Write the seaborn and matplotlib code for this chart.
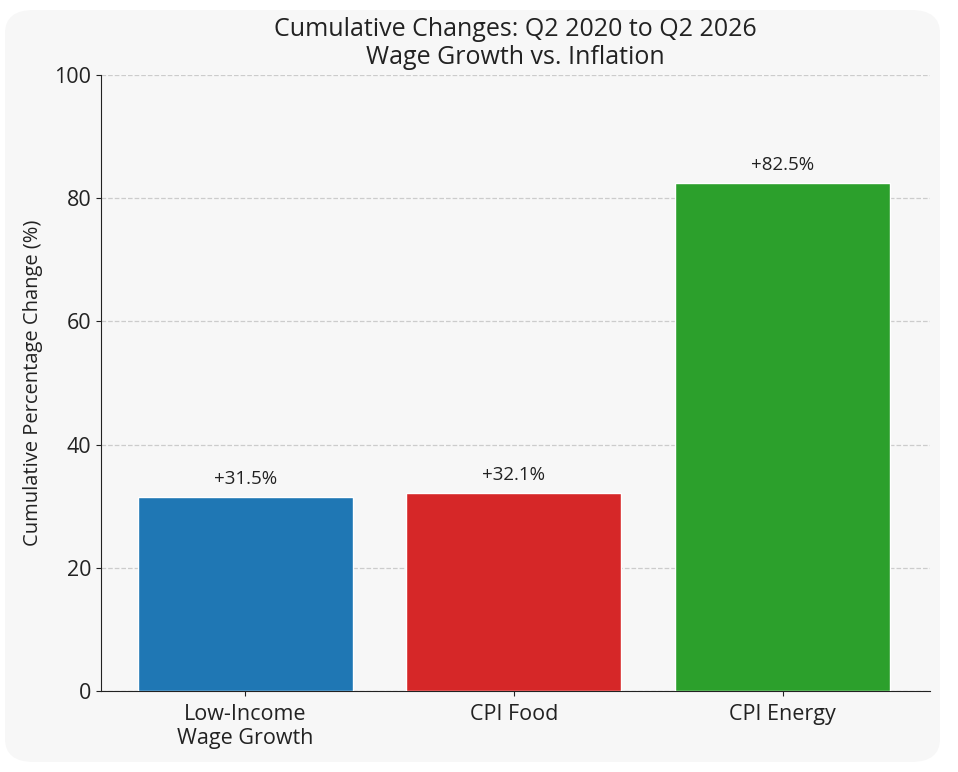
import matplotlib
matplotlib.use("Agg")
import matplotlib.pyplot as plt
import seaborn as sns
import pandas as pd
from matplotlib.patches import FancyBboxPatch

categories = ["Low-Income\nWage Growth", "CPI Food", "CPI Energy"]
values = [31.5, 32.1, 82.5]
colors = ["#1f77b4", "#d62728", "#2ca02c"]
yticks = [0, 20, 40, 60, 80, 100]

sns.set_style("ticks")
plt.rcParams['font.family'] = ['Open Sans', 'DejaVu Sans']

df = pd.DataFrame({"cat": categories, "val": values})

fig = plt.figure(figsize=(9.58, 7.72), dpi=100)
fig.patch.set_facecolor("white")
bg = "#f7f7f7"
panel = FancyBboxPatch((5/958, 10/772), 935/958, 752/772,
                       boxstyle="round,pad=0,rounding_size=0.03",
                       transform=fig.transFigure, facecolor=bg, edgecolor="none", zorder=-10)
fig.patches.append(panel)

ax = fig.add_axes([101/958, 1 - 691/772, (930-101)/958, (691-75)/772])
ax.set_facecolor(bg)
sns.barplot(data=df, x="cat", y="val", hue="cat", palette=colors, ax=ax,
            width=0.8, saturation=1, legend=False, zorder=3)

for i, v in enumerate(values):
    ax.text(i, v + 1.5, f"+{v}%", ha="center", va="bottom", fontsize=13.5, color="#222222")

ax.set_ylim(0, 100)
ax.set_xlim(-0.537, 2.549)
ax.set_yticks(yticks)
ax.tick_params(axis="both", labelsize=15.5, colors="#222222")
ax.tick_params(axis="x", pad=6)
ax.yaxis.grid(True, linestyle="--", color="#cccccc", linewidth=0.9, zorder=0)
ax.set_axisbelow(True)
sns.despine(ax=ax)
for s in ["left", "bottom"]:
    ax.spines[s].set_color("#222222")
ax.set_xlabel("")
ax.set_ylabel("Cumulative Percentage Change (%)", fontsize=14.5, color="#222222", labelpad=8)
ax.set_title("Cumulative Changes: Q2 2020 to Q2 2026\nWage Growth vs. Inflation",
             fontsize=18, color="#222222", pad=8, linespacing=1.15)

fig.savefig("out.png", dpi=100, facecolor="white")
